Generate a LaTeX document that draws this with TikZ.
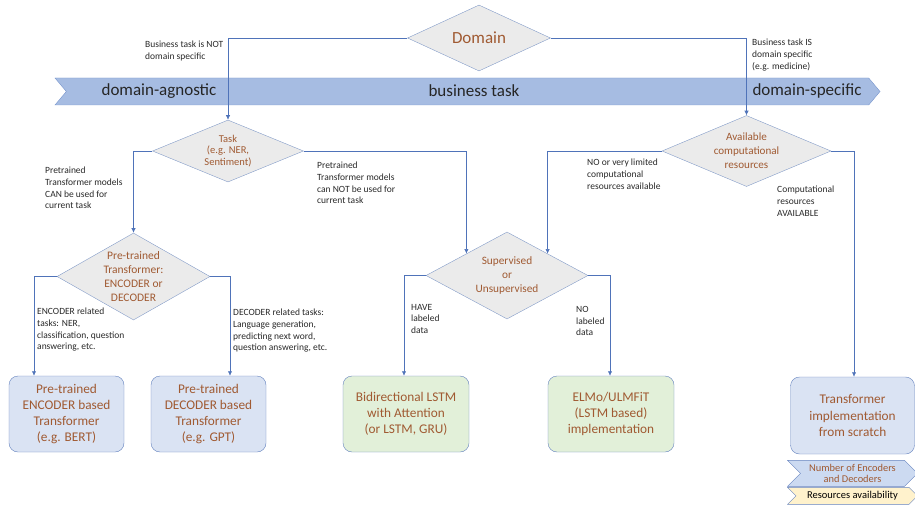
\documentclass[tikz,border=0pt]{standalone}
\usepackage{fontspec}
\setmainfont{Carlito}
\usetikzlibrary{shapes.geometric, shapes.symbols, arrows.meta, positioning}
\definecolor{LineBlue}{RGB}{79,115,185}
\definecolor{DiamondEdge}{RGB}{130,155,200}
\definecolor{DiamondFill}{RGB}{235,235,235}
\definecolor{BrownText}{RGB}{160,90,50}
\definecolor{BannerFill}{RGB}{166,188,226}
\definecolor{BannerEdge}{RGB}{120,150,205}
\definecolor{BoxEdge}{RGB}{100,130,190}
\definecolor{BoxBlue}{RGB}{218,227,243}
\definecolor{BoxGreen}{RGB}{226,240,217}
\definecolor{TagBlue}{RGB}{204,218,241}
\definecolor{TagCream}{RGB}{255,242,204}
\definecolor{NoteText}{RGB}{40,40,40}
\tikzset{
  Flow1/.style = {
    draw, LineBlue, line width = 0.6pt,
    -{Latex[length = 1.6mm, width = 1.5mm]},
  },
  Decision/.style = {
    diamond, draw = DiamondEdge, fill = DiamondFill, text = BrownText,
    inner sep = 0pt, align = center,
  },
  Result/.style = {
    rectangle, rounded corners = 9pt, draw = BoxEdge, text = BrownText,
    inner sep = 0pt, align = center, font = \fontsize{13.3}{16.3}\selectfont,
  },
  Tag/.style = {
    signal, signal from = west, signal to = east, draw = BoxEdge,
    inner sep = 0pt, align = center, minimum width = 130,
  },
  BandText/.style = {
    text = black!85, font = \fontsize{17}{20}\selectfont,
  },
  Note/.style = {
    anchor = north west, align = left, inner sep = 0pt, text = NoteText,
    font = \fontsize{9.5}{11.7}\selectfont,
  },
}

\begin{document}
\begin{tikzpicture}[x=1pt, y=-1pt]
  \useasboundingbox (0,0) rectangle (915,508);
  % band across the page
  \node[signal, signal from = west, signal to = east, signal pointer angle = 100,
    draw = BannerEdge, fill = BannerFill, minimum width = 825, minimum height = 27,
    inner sep = 0pt] (band) at (467.5,91.5) {};
  \node[BandText] (agnostic) at (159,91) {domain-agnostic};
  \node[BandText] (business) at (474,91) {business task};
  \node[BandText] (specific) at (807,91) {domain-specific};

  % decisions
  \node[Decision, aspect = 2.2, minimum width = 143, minimum height = 66,
    font = \fontsize{17}{20}\selectfont] (dom) at (479,38) {Domain};
  \node[Decision, aspect = 2.4, minimum width = 151, minimum height = 62,
    font = \fontsize{10.5}{11.5}\selectfont] (task) at (228,151) {Task\\(e.g. NER,\\Sentiment)};
  \node[Decision, aspect = 2.4, minimum width = 169, minimum height = 71,
    font = \fontsize{11.1}{14}\selectfont] (avail) at (746.5,151) {Available\\computational\\resources};
  \node[Decision, aspect = 1.76, minimum width = 153, minimum height = 87,
    font = \fontsize{11.5}{13.7}\selectfont] (pre) at (133.5,276.5) {Pre-trained\\Transformer:\\ENCODER or\\DECODER};
  \node[Decision, aspect = 1.86, minimum width = 162, minimum height = 87,
    font = \fontsize{11.3}{14}\selectfont] (sup) at (507,275.5) {Supervised\\or\\Unsupervised};

  % results
  \node[Result, fill = BoxBlue, minimum width = 115, minimum height = 76] (enc) at (66.5,414)
    {Pre-trained\\ENCODER based\\Transformer\\(e.g. BERT)};
  \node[Result, fill = BoxBlue, minimum width = 115, minimum height = 76] (dec) at (208.5,414)
    {Pre-trained\\DECODER based\\Transformer\\(e.g. GPT)};
  \node[Result, fill = BoxGreen, minimum width = 126, minimum height = 76] (lstm) at (406,414)
    {Bidirectional LSTM\\with Attention\\(or LSTM, GRU)};
  \node[Result, fill = BoxGreen, minimum width = 126, minimum height = 76] (elmo) at (611,414)
    {ELMo/ULMFiT\\(LSTM based)\\implementation};
  \node[Result, fill = BoxBlue, minimum width = 124, minimum height = 77] (scratch) at (852.5,415.5)
    {Transformer\\implementation\\from scratch};
  \node[Tag, fill = TagCream, minimum height = 17, font = \fontsize{10.5}{12}\selectfont,
    below = 33pt of scratch.south] (resources) {Resources availability};
  \node[Tag, fill = TagBlue, text = BrownText, minimum height = 26,
    font = \fontsize{10.4}{11.7}\selectfont, below = 6pt of scratch] (encdec) {Number of Encoders\\and Decoders};

  % connectors
  \draw[Flow1] (dom.west) -| (task.north);
  \draw[Flow1] (dom.east) -| (avail.north);
  \draw[Flow1] (task.west) -| (pre.north);
  \draw[Flow1] (task.east) -| (sup.north west);
  \draw[Flow1] (avail.west) -| (sup.north east);
  \draw[Flow1] (avail.east) -| ([xshift=1.5pt]scratch.north);
  \draw[Flow1] (pre.west) -| ([xshift=-32.5pt]enc.north);
  \draw[Flow1] (pre.east) -| ([xshift=21.5pt]dec.north);
  \draw[Flow1] (sup.west) -| ([xshift=-2pt]lstm.north);
  \draw[Flow1] (sup.east) -| ([xshift=-1pt]elmo.north);

  % notes on the branches
  \node[Note] (not-specific) at (145,41) {Business task is NOT\\domain specific};
  \node[Note] (is-specific) at (752,39) {Business task IS\\domain specific\\(e.g. medicine)};
  \node[Note] (can-use) at (45,167) {Pretrained\\Transformer models\\CAN be used for\\current task};
  \node[Note] (cannot-use) at (317,162) {Pretrained\\Transformer models\\can NOT be used for\\current task};
  \node[Note] (limited) at (587,159) {NO or very limited\\computational\\resources available};
  \node[Note] (available) at (777,186) {Computational\\resources\\AVAILABLE};
  \node[Note] (enc-tasks) at (37,308) {ENCODER related\\tasks: NER,\\classification, question\\answering, etc.};
  \node[Note] (dec-tasks) at (233,309) {DECODER related tasks:\\Language generation,\\predicting next word,\\question answering, etc.};
  \node[Note] (have-data) at (411,304) {HAVE\\labeled\\data};
  \node[Note] (no-data) at (576,306) {NO\\labeled\\data};
\end{tikzpicture}
\end{document}
